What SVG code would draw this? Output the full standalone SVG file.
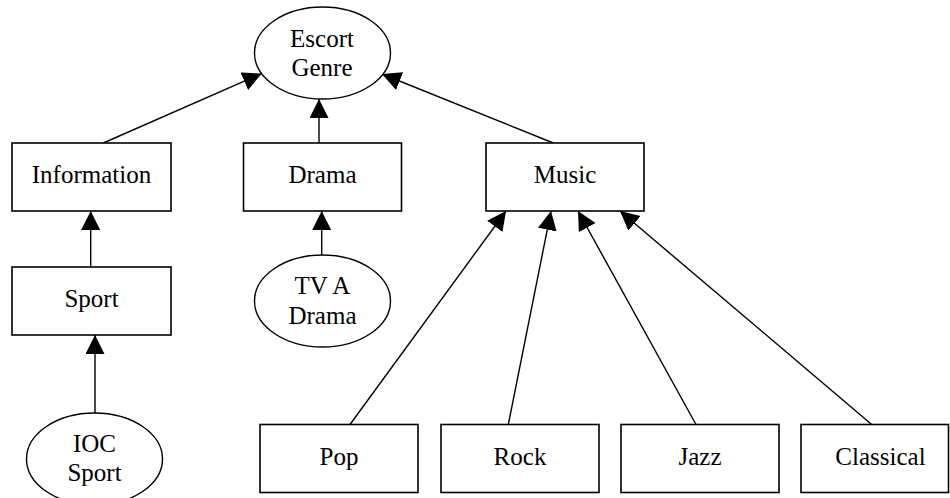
<svg xmlns="http://www.w3.org/2000/svg" width="950" height="498" viewBox="0 0 950 498">
<style>
.box{fill:#fff;stroke:#000;stroke-width:1.6}
.ell{fill:#fff;stroke:#000;stroke-width:1.4}
.lbl{font-family:"Liberation Serif","Times New Roman",serif;font-size:25px;fill:#000;text-anchor:middle}
.con line{stroke:#000;stroke-width:1.4;fill:none;marker-end:url(#arr)}
</style>
<defs>
<marker id="arr" markerUnits="userSpaceOnUse" markerWidth="20" markerHeight="20" refX="19" refY="9.5" orient="auto">
<path d="M0,0 L19,9.5 L0,19 Z" fill="#000"/>
</marker>
</defs>
<rect width="950" height="498" fill="#fff"/>
<g class="con" id="connectors">
<line x1="103.3" y1="143" x2="261.7" y2="73.6"/>
<line x1="319" y1="143" x2="319" y2="99"/>
<line x1="553.3" y1="143" x2="382" y2="74"/>
<line x1="90.7" y1="267" x2="90.7" y2="211"/>
<line x1="95" y1="413" x2="95" y2="335"/>
<line x1="321.7" y1="255" x2="321.7" y2="211"/>
<line x1="350" y1="424.5" x2="506" y2="211"/>
<line x1="508.3" y1="424.5" x2="551" y2="211"/>
<line x1="696" y1="424.5" x2="578" y2="211"/>
<line x1="871.7" y1="424.5" x2="620" y2="211"/>
</g>
<g id="escort-genre">
<ellipse class="ell" cx="322.5" cy="53" rx="68" ry="46"/>
<text class="lbl" x="322" y="46.5">Escort</text>
<text class="lbl" x="322" y="75.5">Genre</text>
</g>
<g id="information">
<rect class="box" x="12" y="143" width="159" height="68"/>
<text class="lbl" x="91.5" y="183">Information</text>
</g>
<g id="drama">
<rect class="box" x="243.5" y="143" width="158" height="68"/>
<text class="lbl" x="322.5" y="183">Drama</text>
</g>
<g id="music">
<rect class="box" x="486" y="143" width="158" height="68"/>
<text class="lbl" x="565" y="183">Music</text>
</g>
<g id="sport">
<rect class="box" x="12" y="267" width="159" height="68"/>
<text class="lbl" x="91.5" y="307">Sport</text>
</g>
<g id="tva-drama">
<ellipse class="ell" cx="322.5" cy="301" rx="68" ry="46"/>
<text class="lbl" x="322.5" y="293.5">TV A</text>
<text class="lbl" x="322.5" y="323.5">Drama</text>
</g>
<g id="ioc-sport">
<ellipse class="ell" cx="94.5" cy="459" rx="68" ry="46"/>
<text class="lbl" x="94.5" y="452">IOC</text>
<text class="lbl" x="94.5" y="481">Sport</text>
</g>
<g id="pop">
<rect class="box" x="260" y="424.5" width="158" height="68"/>
<text class="lbl" x="339" y="464.5">Pop</text>
</g>
<g id="rock">
<rect class="box" x="441" y="424.5" width="158" height="68"/>
<text class="lbl" x="520" y="464.5">Rock</text>
</g>
<g id="jazz">
<rect class="box" x="621" y="424.5" width="158" height="68"/>
<text class="lbl" x="700" y="464.5">Jazz</text>
</g>
<g id="classical">
<rect class="box" x="801" y="424.5" width="147.5" height="68"/>
<text class="lbl" x="880.5" y="464.5">Classical</text>
</g>
</svg>
